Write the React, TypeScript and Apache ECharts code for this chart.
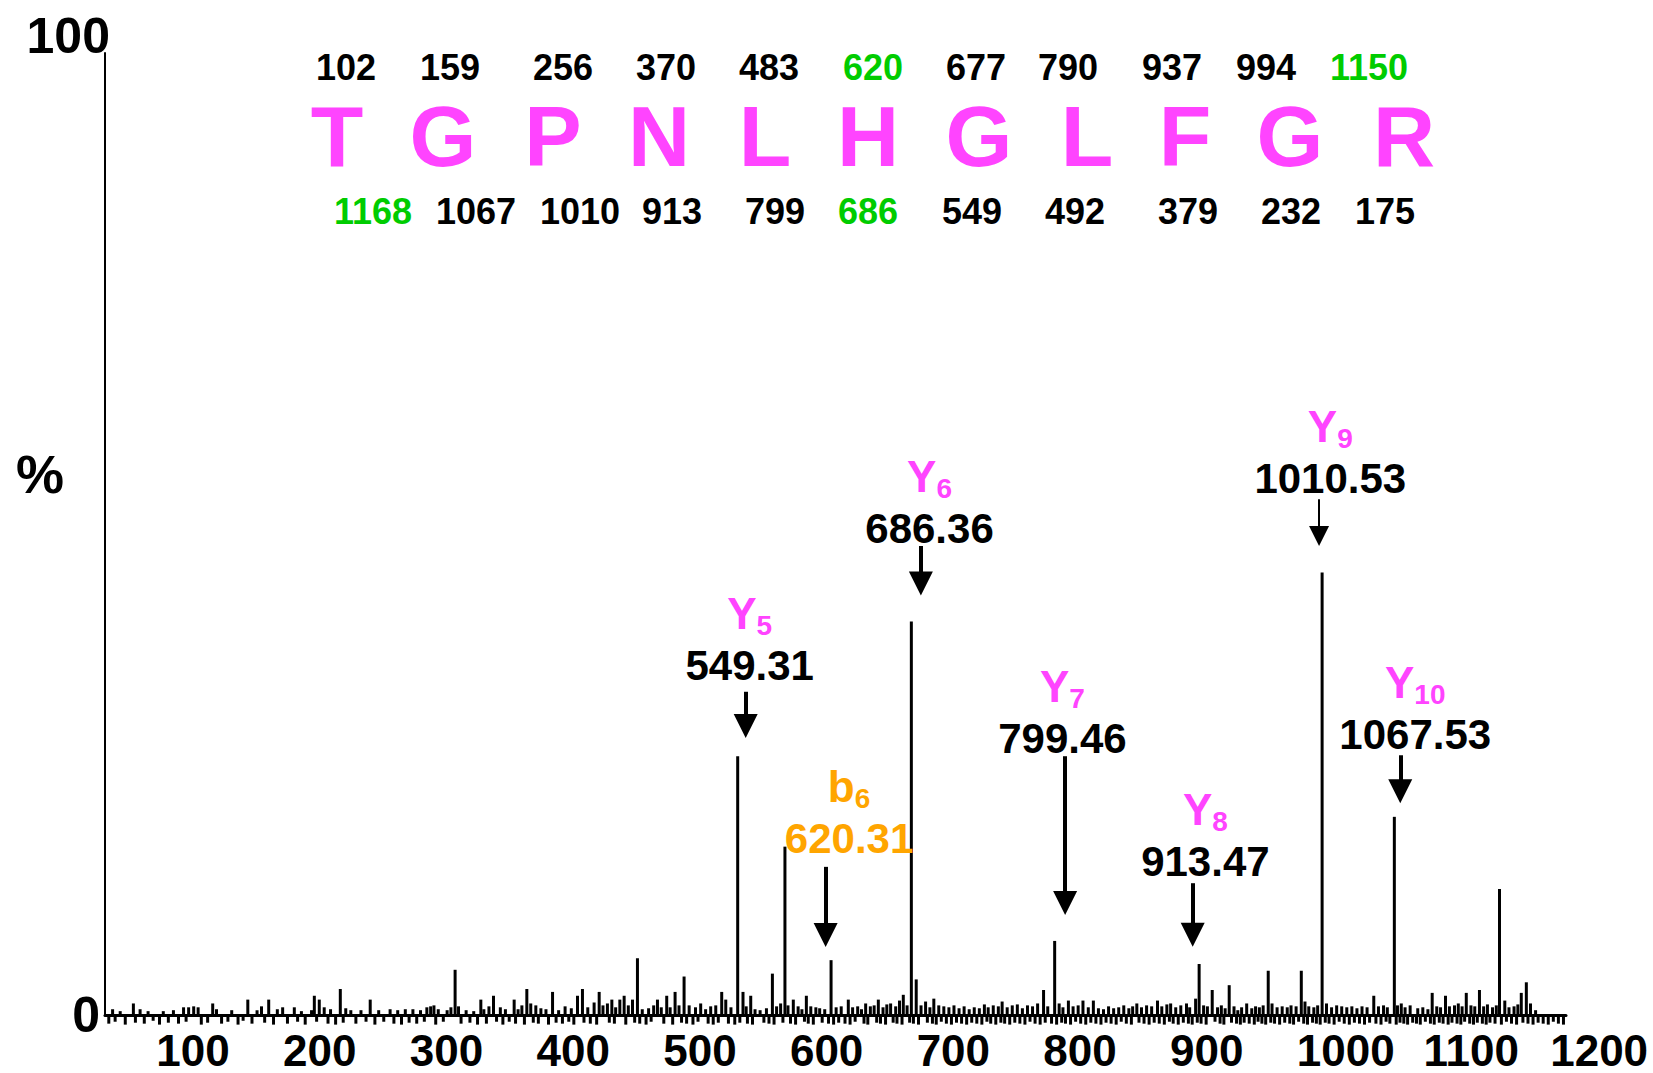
import React, { useEffect, useRef } from "react";
import * as echarts from "echarts";

const FONT = '"Liberation Sans", Arial, Helvetica, sans-serif';
const MAGENTA = "#FF44FF";
const ORANGE = "#FFA500";
const GREEN = "#00CC00";

// ---- axis ----
const xTickLabels = [100, 200, 300, 400, 500, 600, 700, 800, 900, 1000, 1100, 1200];
const yTickLabels = [0, 100];

// ---- spectrum: labelled / major peaks [m/z, %] ----
const majorPeaks: [number, number][] = [
  [549.31, 26.9],
  [586.6, 17.5],
  [623.0, 5.7],
  [686.36, 40.9],
  [799.46, 7.7],
  [913.47, 5.3],
  [1010.53, 46.0],
  [1067.53, 20.6],
  [1150.5, 13.1],
];

// ---- spectrum: minor peaks [m/z, %] ----
const minorPeaks: [number, number][] = [
  [56, 0.6], [62, 0.4], [72.4, 1.2], [77.7, 0.6], [84, 0.4], [96, 0.4], [104, 0.5], [112, 0.8],
  [116, 0.8], [120, 0.9], [123.5, 0.8], [135, 1.2], [138, 0.6], [150, 0.5], [162.7, 1.6], [170, 0.5],
  [173.5, 0.9], [179.2, 1.6], [186, 0.6], [190.2, 0.8], [199.4, 0.8], [205, 0.4], [213, 0.5], [215.2, 2.0],
  [219.1, 1.6], [223, 0.8], [228, 0.6], [235.7, 2.7], [240, 0.7], [244, 0.5], [252, 0.5], [259.3, 1.6],
  [266, 0.5], [275, 0.6], [281, 0.5], [287, 0.6], [293, 0.6], [299, 0.5], [304, 0.8], [307, 0.9],
  [309.6, 1.0], [313, 0.6], [320, 0.5], [323, 0.8], [326.3, 4.7], [329, 0.9], [335, 0.5], [341, 0.4],
  [346.6, 1.6], [349, 0.6], [353, 0.9], [356.6, 2.0], [362, 0.8], [366, 0.6], [372.9, 1.6], [376, 0.6],
  [379, 1.0], [382.9, 2.7], [386, 1.2], [390, 1.0], [394, 0.7], [398, 0.6], [403.2, 2.4], [408, 0.5],
  [413.1, 0.9], [418, 0.7], [422.9, 2.0], [426.8, 2.7], [431, 0.8], [436, 1.3], [440, 2.4], [443, 1.0],
  [446.5, 1.2], [450, 1.6], [453, 0.8], [456.3, 1.6], [459.7, 2.0], [463, 1.0], [466.3, 1.6], [470.2, 5.9],
  [474, 0.6], [479, 0.7], [483, 1.0], [486, 1.6], [489, 0.8], [493.3, 2.0], [496, 0.8], [499.9, 2.4],
  [503, 1.0], [507, 4.0], [511, 1.0], [516, 0.8], [520.1, 1.2], [524, 0.6], [528, 0.9], [532, 1.0],
  [536.7, 2.4], [539.9, 1.6], [544, 0.8], [553.5, 2.4], [556, 0.9], [559.6, 2.0], [563, 0.6], [567, 0.5],
  [572, 0.7], [576.7, 4.3], [580, 0.9], [583.2, 1.2], [589, 1.0], [593.2, 1.6], [597, 0.9], [600, 0.6],
  [603.5, 2.0], [607, 0.9], [611, 0.8], [614, 0.7], [618, 0.6], [627, 0.8], [631, 0.9], [636.6, 1.6],
  [640, 0.8], [644, 0.9], [647, 0.6], [650.3, 1.2], [654, 0.9], [657, 1.0], [660.3, 1.6], [664, 0.8],
  [667, 1.1], [670, 1.2], [674, 0.9], [677, 1.5], [680, 2.1], [683, 1.0], [690.2, 3.7], [694, 1.0],
  [697.6, 1.4], [701, 0.8], [704.1, 1.7], [708, 1.0], [712, 0.9], [716, 0.8], [720, 1.0], [724, 0.7],
  [728, 0.9], [732, 0.6], [736, 0.8], [740, 0.7], [744, 1.1], [747, 0.8], [751, 1.0], [755, 0.9],
  [758, 1.4], [762, 0.8], [766, 1.0], [770, 1.1], [774, 0.7], [778, 1.0], [782, 0.9], [786, 1.2],
  [790.7, 2.6], [794, 0.9], [803, 1.2], [806, 0.8], [810.3, 1.5], [814, 0.9], [818, 1.0], [821.8, 1.5],
  [826, 0.8], [830, 1.5], [834, 0.7], [838, 0.6], [842, 0.9], [846, 0.7], [850, 0.8], [854, 1.0],
  [858, 0.7], [861, 0.9], [864.3, 1.2], [868, 0.8], [872, 1.0], [876, 0.9], [880.6, 1.5], [884, 0.9],
  [888, 1.1], [891, 1.2], [895, 0.8], [899, 1.0], [903.5, 1.2], [906, 0.8], [910.7, 1.7], [917, 1.0],
  [920, 0.9], [923.8, 2.6], [928, 0.8], [931, 1.0], [934, 0.7], [937.2, 3.1], [941, 0.9], [944, 0.5],
  [947, 0.8], [951, 1.2], [955, 0.7], [958, 0.9], [961, 0.8], [964, 1.0], [968, 4.6], [971, 1.2],
  [975, 0.8], [979, 0.9], [983, 0.8], [986, 1.0], [990, 0.9], [994.1, 4.6], [997, 1.4], [1000, 0.9],
  [1004, 0.8], [1007, 1.0], [1014, 1.2], [1018, 0.8], [1022, 1.0], [1026, 0.9], [1030, 0.8], [1034, 0.9],
  [1038, 0.7], [1042, 0.9], [1046, 0.8], [1051.3, 2.0], [1055, 0.9], [1059, 1.0], [1062, 0.8], [1070, 1.0],
  [1073, 1.2], [1076, 0.8], [1080, 1.0], [1086, 0.7], [1090, 0.8], [1094, 0.6], [1097.4, 2.3], [1101, 0.9],
  [1104, 0.8], [1107.9, 2.0], [1111, 0.9], [1115, 1.0], [1118, 1.2], [1121, 0.9], [1124.3, 2.3], [1128, 1.0],
  [1131, 0.9], [1134.7, 2.6], [1138, 0.9], [1141, 1.1], [1145, 0.8], [1148, 1.0], [1154.7, 1.5], [1158, 0.8],
  [1162, 0.9], [1165, 1.1], [1167.7, 2.3], [1171.7, 3.4], [1175, 1.2], [1179, 0.5],
];

// ---- spectrum: baseline noise dips below zero [m/z, %] ----
const baselineDips: [number, number][] = [
  [53, -0.9], [58, -0.7], [66, -1.0], [74, -0.8], [81, -0.9], [88, -0.6], [93, -1.0], [100, -0.8],
  [108, -0.9], [114, -0.7], [126, -1.0], [131, -0.8], [142, -0.9], [147, -0.7], [155, -1.0], [159, -0.6],
  [166, -0.9], [176, -0.8], [183, -1.0], [194, -0.9], [202, -0.7], [208, -1.0], [217, -0.7], [226, -0.9],
  [232, -1.0], [238, -0.8], [248, -0.9], [256, -0.7], [263, -1.0], [270, -0.7], [278, -0.9], [284, -1.0],
  [290, -0.8], [296, -0.9], [302, -0.7], [311, -1.0], [317, -0.7], [331, -0.9], [338, -0.8], [344, -1.0],
  [351, -0.9], [359, -0.7], [364, -1.0], [369, -0.7], [374, -0.9], [381, -1.0], [388, -0.8], [392, -0.9],
  [400, -1.0], [406, -0.8], [411, -0.9], [416, -0.7], [420, -1.0], [428, -0.8], [433, -0.9], [438, -1.0],
  [448, -0.8], [452, -0.9], [461, -1.0], [468, -0.8], [472, -0.9], [477, -1.0], [481, -0.7], [491, -0.9],
  [498, -1.0], [505, -0.8], [509, -0.9], [514, -1.0], [518, -0.7], [526, -0.9], [530, -1.0], [534, -0.8],
  [542, -0.9], [547, -1.0], [551, -0.8], [557, -0.9], [561, -1.0], [570, -0.8], [574, -0.9], [578, -1.0],
  [585, -0.8], [591, -0.9], [595, -1.0], [602, -0.7], [605, -0.9], [609, -1.0], [616, -0.8], [621, -0.9],
  [625, -1.0], [629, -0.8], [634, -0.9], [638, -1.0], [642, -0.7], [649, -0.9], [652, -1.0], [659, -0.8],
  [662, -0.9], [666, -1.0], [672, -0.8], [675, -0.9], [679, -1.0], [685, -0.8], [688, -0.9], [692, -1.0],
  [699, -0.8], [703, -0.9], [706, -1.0], [710, -0.7], [714, -0.9], [718, -1.0], [722, -0.8], [726, -0.9],
  [730, -1.0], [734, -0.8], [738, -0.9], [742, -1.0], [746, -0.7], [749, -0.9], [753, -1.0], [757, -0.8],
  [760, -0.9], [764, -1.0], [768, -0.8], [772, -0.9], [776, -1.0], [780, -0.7], [784, -0.9], [788, -1.0],
  [792, -0.8], [797, -0.9], [801, -1.0], [805, -0.8], [808, -0.9], [812, -1.0], [816, -0.7], [820, -0.9],
  [824, -1.0], [828, -0.8], [832, -0.9], [836, -1.0], [840, -0.8], [844, -0.9], [848, -1.0], [852, -0.7],
  [856, -0.9], [860, -1.0], [866, -0.8], [870, -0.9], [874, -1.0], [878, -0.8], [882, -0.9], [886, -1.0],
  [890, -0.7], [893, -0.9], [897, -1.0], [901, -0.8], [905, -0.9], [908, -1.0], [912, -0.8], [915, -0.9],
  [919, -1.0], [926, -0.7], [930, -0.9], [933, -1.0], [939, -0.8], [943, -0.9], [946, -1.0], [949, -0.8],
  [953, -0.9], [957, -1.0], [960, -0.7], [963, -0.9], [966, -1.0], [970, -0.8], [973, -0.9], [977, -1.0],
  [981, -0.8], [985, -0.9], [988, -1.0], [992, -0.7], [996, -0.9], [999, -1.0], [1003, -0.8], [1006, -0.9],
  [1009, -1.0], [1013, -0.8], [1016, -0.9], [1020, -1.0], [1024, -0.7], [1028, -0.9], [1032, -1.0], [1036, -0.8],
  [1040, -0.9], [1044, -1.0], [1048, -0.8], [1053, -0.9], [1057, -1.0], [1061, -0.7], [1064, -0.9], [1069, -1.0],
  [1072, -0.8], [1075, -0.9], [1078, -1.0], [1082, -0.8], [1085, -0.9], [1088, -1.0], [1092, -0.7], [1096, -0.9],
  [1099, -1.0], [1103, -0.8], [1106, -0.9], [1110, -1.0], [1113, -0.8], [1117, -0.9], [1120, -1.0], [1123, -0.7],
  [1127, -0.9], [1130, -1.0], [1133, -0.8], [1137, -0.9], [1140, -1.0], [1143, -0.8], [1147, -0.9], [1152, -1.0],
  [1156, -0.7], [1160, -0.9], [1164, -1.0], [1169, -0.8], [1173, -0.9], [1177, -1.0], [1181, -0.8], [1185, -0.9],
  [1189, -1.0], [1193, -0.7], [1197, -0.9], [1201, -1.0],
];

// ---- fragment ion annotations ----
const ionNames = ["Y", "b", "Y", "Y", "Y", "Y", "Y"];
const ionSubs = ["5", "6", "6", "7", "8", "9", "10"];
const ionMasses = ["549.31", "620.31", "686.36", "799.46", "913.47", "1010.53", "1067.53"];
// label block centre, in data coordinates [m/z, %]
const ionLabelAnchor: [number, number][] = [
  [558.8, 39.0], [637.2, 21.0], [700.7, 53.3], [805.6, 31.4], [918.4, 18.7], [1017.0, 58.5], [1084.0, 31.9],
];
// arrows, in data coordinates
const arrowMz = [555.6, 618.7, 693.9, 807.7, 908.4, 1008.1, 1072.2];
const arrowFromPct = [33.6, 15.4, 48.75, 26.9, 13.7, 53.6, 27.0];
const arrowTipPct = [28.8, 7.07, 43.6, 10.4, 7.1, 48.75, 22.0];

// ---- peptide sequence with b / y ion ladders ----
const residues = ["T", "G", "P", "N", "L", "H", "G", "L", "F", "G", "R"];
const bIons = ["102", "159", "256", "370", "483", "620", "677", "790", "937", "994", "1150"];
const yIons = ["1168", "1067", "1010", "913", "799", "686", "549", "492", "379", "232", "175"];
const bIonHighlight = ["620", "1150"];
const yIonHighlight = ["1168", "686"];

// layout of the sequence block (pixels)
const residueX = [337, 443, 553, 659, 765, 868, 979, 1087, 1185, 1290, 1404];
const bIonX = [346, 450, 563, 666, 769, 873, 976, 1068, 1172, 1266, 1369];
const yIonX = [373, 476, 580, 672, 775, 868, 972, 1075, 1188, 1291, 1385];

export default function App() {
  const ref = useRef<HTMLDivElement>(null);

  useEffect(() => {
    if (!ref.current) return;
    const chart = echarts.init(ref.current, undefined, { renderer: "svg" });

    const spectrum = [...baselineDips, ...minorPeaks, ...majorPeaks];

    const annData = ionNames.map((n, i) => {
      const o = n === "b" ? "O" : "";
      return {
        value: ionLabelAnchor[i],
        label: {
          formatter: `{ion${o}|${n}}{sub${o}|${ionSubs[i]}}\n{mass${o}|${ionMasses[i]}}`,
        },
      };
    });

    const arrowData = arrowMz.map((m, i) => {
      const thin = i === 5;
      const headPx = thin ? 20 : 24;
      const ls = { color: "#000", width: thin ? 2 : 4, type: "solid" as const, opacity: 1 };
      return [
        { coord: [m, arrowFromPct[i]], symbol: "none", lineStyle: ls },
        {
          coord: [m, arrowTipPct[i] + headPx / 2 / 9.62],
          symbol: "triangle",
          symbolSize: headPx,
          lineStyle: ls,
        },
      ];
    });

    const textEl = (text: string, x: number, y: number, size: number, color: string) => ({
      type: "text",
      x,
      y,
      silent: true,
      style: {
        text,
        fill: color,
        font: `bold ${size}px ${FONT}`,
        align: "center",
        verticalAlign: "middle",
        textAlign: "center",
        textVerticalAlign: "middle",
      },
    });

    const graphics: any[] = [textEl("%", 40, 474, 54, "#000")];
    residues.forEach((r, i) => graphics.push(textEl(r, residueX[i], 136, 86, MAGENTA)));
    bIons.forEach((b, i) =>
      graphics.push(textEl(b, bIonX[i], 67, 36, bIonHighlight.includes(b) ? GREEN : "#000"))
    );
    yIons.forEach((y, i) =>
      graphics.push(textEl(y, yIonX[i], 211, 36, yIonHighlight.includes(y) ? GREEN : "#000"))
    );

    const richBase = { fontWeight: "bold", fontFamily: FONT, opacity: 1 };

    const option: any = {
      animation: false,
      backgroundColor: "#fff",
      grid: { left: 105, right: 87, top: 53, bottom: 58, containLabel: false, outerBoundsMode: "none" },
      xAxis: {
        type: "value",
        min: 50,
        max: 1203,
        axisLine: { show: true, onZero: false, lineStyle: { color: "#000", width: 3 } },
        axisTick: { show: false },
        splitLine: { show: false },
        axisLabel: {
          customValues: xTickLabels,
          formatter: (v: number) => String(v),
          align: "left",
          padding: [0, 0, 0, -12],
          margin: 15,
          fontSize: 44,
          lineHeight: 40,
          fontWeight: "bold",
          fontFamily: FONT,
          color: "#000",
        },
      },
      yAxis: {
        type: "value",
        min: 0,
        max: 100,
        axisLine: { show: true, lineStyle: { color: "#000", width: 2 } },
        axisTick: { show: false },
        splitLine: { show: false },
        axisLabel: {
          customValues: yTickLabels,
          margin: -5,
          formatter: (v: number) => (v === 100 ? "{top|100}" : "{zero|0}"),
          rich: {
            top: { fontSize: 50, fontWeight: "bold", fontFamily: FONT, color: "#000", padding: [0, 0, 34, 0] },
            zero: { fontSize: 50, fontWeight: "bold", fontFamily: FONT, color: "#000", padding: [0, 10, 0, 0] },
          },
        },
      },
      series: [
        {
          type: "bar",
          name: "spectrum",
          data: spectrum,
          barWidth: 3,
          clip: false,
          silent: true,
          itemStyle: { color: "#000", opacity: 1 },
          markLine: {
            silent: true,
            animation: false,
            symbol: ["none", "triangle"],
            label: { show: false },
            lineStyle: { color: "#000", width: 4, type: "solid", opacity: 1 },
            itemStyle: { color: "#000", opacity: 1 },
            emphasis: { disabled: true },
            data: arrowData,
          },
          z: 3,
        },
        {
          type: "scatter",
          name: "annotations",
          data: annData,
          symbolSize: 0,
          silent: true,
          itemStyle: { color: "#fff", opacity: 1 },
          label: {
            show: true,
            position: "inside",
            align: "center",
            verticalAlign: "middle",
            opacity: 1,
            rich: {
              ion: { ...richBase, fontSize: 44, color: MAGENTA, lineHeight: 52 },
              sub: { ...richBase, fontSize: 28, color: MAGENTA, lineHeight: 28, verticalAlign: "bottom" },
              mass: { ...richBase, fontSize: 42, color: "#000", lineHeight: 52 },
              ionO: { ...richBase, fontSize: 44, color: ORANGE, lineHeight: 52 },
              subO: { ...richBase, fontSize: 28, color: ORANGE, lineHeight: 28, verticalAlign: "bottom" },
              massO: { ...richBase, fontSize: 42, color: ORANGE, lineHeight: 52 },
            },
          },
          z: 5,
        },
      ],
      graphic: graphics,
    };

    chart.setOption(option);
    return () => chart.dispose();
  }, []);

  return (
    <div
      ref={ref}
      style={{ position: "fixed", left: 0, top: 0, width: 1653, height: 1073, background: "#fff" }}
    />
  );
}
